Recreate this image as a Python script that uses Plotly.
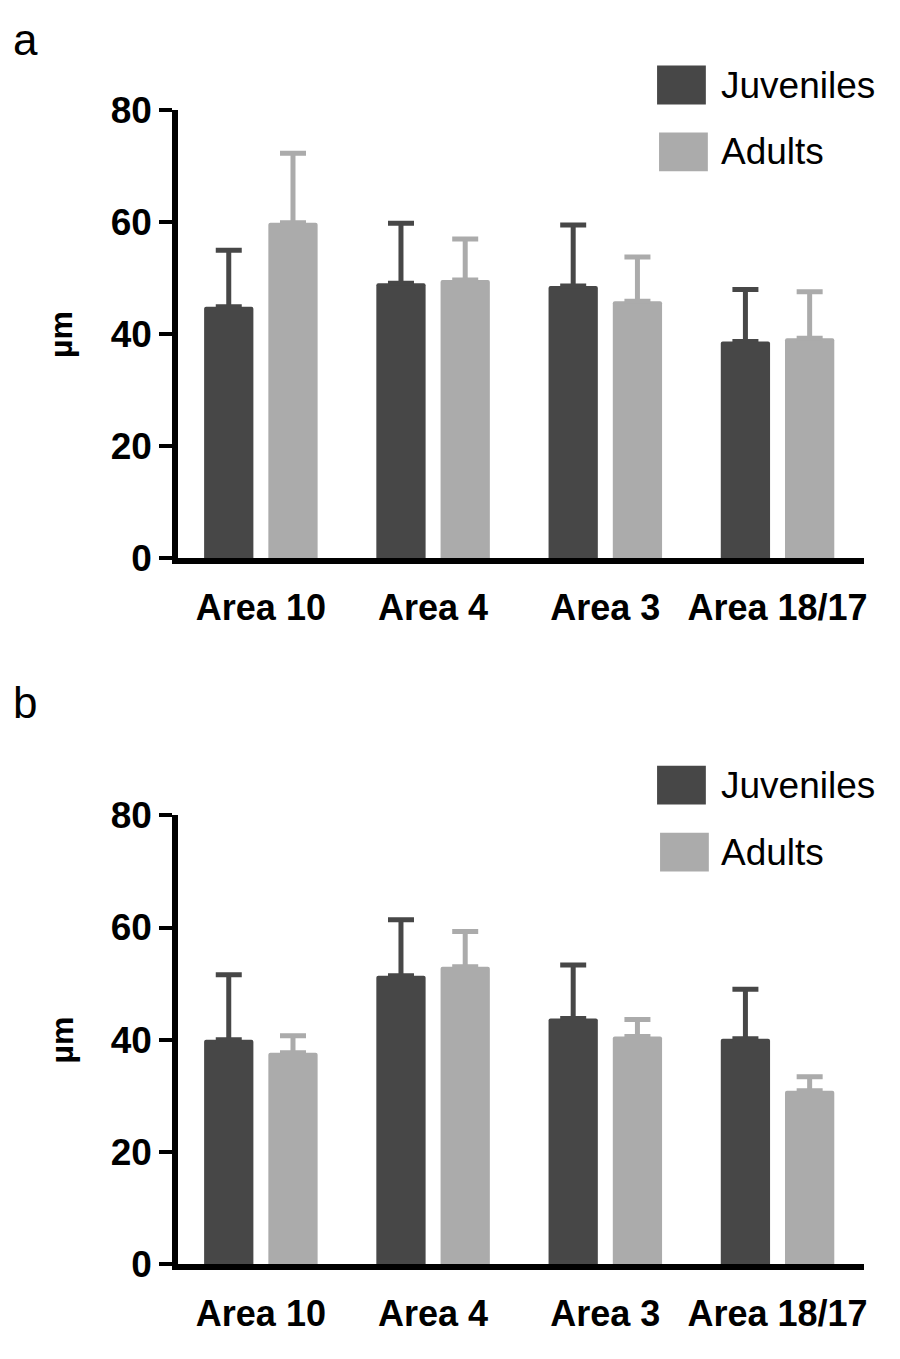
import plotly.graph_objects as go

# ---- data ----
categories = ["Area 10", "Area 4", "Area 3", "Area 18/17"]
series_names = ["Juveniles", "Adults"]

a_juv = [44.9, 49.1, 48.6, 38.7]
a_juv_err = [10.1, 10.7, 10.9, 9.3]
a_adu = [59.9, 49.7, 45.9, 39.3]
a_adu_err = [12.4, 7.3, 7.9, 8.3]

b_juv = [40.0, 51.4, 43.8, 40.2]
b_juv_err = [11.6, 10.0, 9.5, 8.8]
b_adu = [37.7, 53.0, 40.6, 30.9]
b_adu_err = [3.0, 6.3, 3.0, 2.5]

y_ticks = [0, 20, 40, 60, 80]
panel_labels = ["a", "b"]
y_title = "µm"

# ---- style ----
W, H = 900, 1359
DARK = "#474747"
LIGHT = "#ababab"
FONT = "Liberation Sans, Arial, Helvetica, sans-serif"
LW = 6


def fx(px):
    return px / W


def fy(py):
    return 1 - py / H


panels = [
    dict(juv=a_juv, juv_err=a_juv_err, adu=a_adu, adu_err=a_adu_err,
         top=93, bottom=555, xa="x", ya="y", label_y=20,
         leg=[(660, 47, 87, 68), (662, 116, 156, 136)]),
    dict(juv=b_juv, juv_err=b_juv_err, adu=b_adu, adu_err=b_adu_err,
         top=820, bottom=1283, xa="x2", ya="y2", label_y=704,
         leg=[(660, 769, 809, 789), (663, 838, 878, 858)]),
]

fig = go.Figure()
for p in panels:
    for name, vals, errs, col in [
        (series_names[0], p["juv"], p["juv_err"], DARK),
        (series_names[1], p["adu"], p["adu_err"], LIGHT),
    ]:
        fig.add_trace(go.Bar(
            x=categories, y=vals, name=name,
            xaxis=p["xa"], yaxis=p["ya"],
            marker=dict(color=col, line=dict(width=0), cornerradius=2),
            error_y=dict(type="data", symmetric=False, array=errs,
                         arrayminus=[0] * len(errs), color=col,
                         thickness=5, width=13),
            showlegend=False,
        ))

xdomain = [fx(179), fx(867.5)]
axis_common_x = dict(
    domain=xdomain, range=[-0.48, 3.5], showline=True, linewidth=LW,
    linecolor="black", ticks="", showgrid=False, zeroline=False,
    tickfont=dict(family=FONT, size=36, color="black", weight="bold"),
    ticklabelstandoff=13, fixedrange=True,
)
axis_common_y = dict(
    range=[0, 80], tickvals=y_ticks, showline=True, linewidth=LW,
    linecolor="black", ticks="outside", ticklen=13, tickwidth=4,
    tickcolor="black", showgrid=False, zeroline=False,
    tickfont=dict(family=FONT, size=37, color="black", weight="bold"),
    fixedrange=True,
)

fig.update_layout(
    width=W, height=H,
    margin=dict(l=0, r=0, t=0, b=0),
    paper_bgcolor="white", plot_bgcolor="white",
    barmode="group", bargap=0.254, bargroupgap=0.233,
    xaxis=dict(**axis_common_x, anchor="y"),
    yaxis=dict(**axis_common_y, domain=[fy(panels[0]["bottom"]), fy(panels[0]["top"])], anchor="x"),
    xaxis2=dict(**axis_common_x, anchor="y2"),
    yaxis2=dict(**axis_common_y, domain=[fy(panels[1]["bottom"]), fy(panels[1]["top"])], anchor="x2"),
)

shapes = []
annotations = []
for i, p in enumerate(panels):
    annotations.append(dict(
        text=panel_labels[i], x=fx(11), y=fy(p["label_y"]), xref="paper", yref="paper",
        xanchor="left", yanchor="middle", showarrow=False,
        font=dict(family=FONT, size=44, color="black"),
    ))
    annotations.append(dict(
        text=y_title, x=fx(62), y=fy((p["top"] + p["bottom"]) / 2),
        xref="paper", yref="paper", xanchor="center", yanchor="middle",
        textangle=-90, showarrow=False,
        font=dict(family=FONT, size=32, color="black", weight="bold"),
    ))
    for (name, col), (x0, y0, y1, cy) in zip([(series_names[0], DARK), (series_names[1], LIGHT)], p["leg"]):
        shapes.append(dict(
            type="rect", xref="paper", yref="paper",
            x0=fx(x0), x1=fx(x0 + 49), y0=fy(y1), y1=fy(y0),
            fillcolor=col, line=dict(width=0),
        ))
        annotations.append(dict(
            text=name, x=fx(722), y=fy(cy), xref="paper", yref="paper",
            xanchor="left", yanchor="middle", showarrow=False,
            font=dict(family=FONT, size=37, color="black"),
        ))

fig.update_layout(shapes=shapes, annotations=annotations)

fig.write_html("out.html", config={"displayModeBar": False},
               post_script="document.body.style.margin='0';")
